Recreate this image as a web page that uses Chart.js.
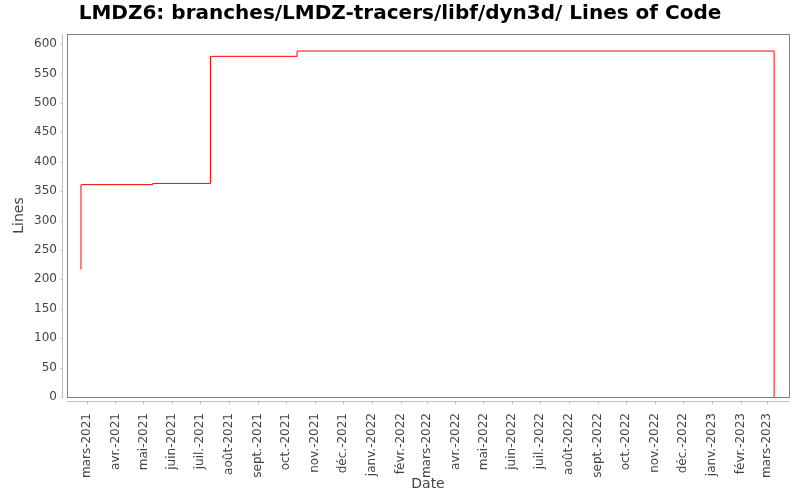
<!DOCTYPE html>
<html>
<head>
<meta charset="utf-8">
<script src="https://cdn.jsdelivr.net/npm/chart.js@4.4.1/dist/chart.umd.min.js"></script>
<style>
  html, body { margin: 0; padding: 0; background: #fff; }
</style>
</head>
<body>
<canvas id="locChart" width="800" height="500"></canvas>
<script>
// commit dates and line counts
const commitDates = ['2021-02-23', '2021-02-23', '2021-05-11', '2021-07-12', '2021-10-13', '2023-03-09', '2023-03-09'];
const lineCounts = [217, 361, 363, 579, 588, 588, 0];

// axis ticks
const yTicks = [0, 50, 100, 150, 200, 250, 300, 350, 400, 450, 500, 550, 600];
const xTickDates = [
  '2021-03-01', '2021-04-01', '2021-05-01', '2021-06-01', '2021-07-01', '2021-08-01',
  '2021-09-01', '2021-10-01', '2021-11-01', '2021-12-01', '2022-01-01', '2022-02-01',
  '2022-03-01', '2022-04-01', '2022-05-01', '2022-06-01', '2022-07-01', '2022-08-01',
  '2022-09-01', '2022-10-01', '2022-11-01', '2022-12-01', '2023-01-01', '2023-02-01',
  '2023-03-01'
];
const xTickLabels = [
  'mars-2021', 'avr.-2021', 'mai-2021', 'juin-2021', 'juil.-2021', 'août-2021',
  'sept.-2021', 'oct.-2021', 'nov.-2021', 'déc.-2021', 'janv.-2022', 'févr.-2022',
  'mars-2022', 'avr.-2022', 'mai-2022', 'juin-2022', 'juil.-2022', 'août-2022',
  'sept.-2022', 'oct.-2022', 'nov.-2022', 'déc.-2022', 'janv.-2023', 'févr.-2023',
  'mars-2023'
];

const xMin = Date.parse('2021-02-08');
const xMax = Date.parse('2023-03-25');
const yMax = 617;

const FONT = 'DejaVu Sans';

// plot frame + offset axis lines (JFreeChart look)
const frameAxes = {
  id: 'frameAxes',
  beforeDatasetsDraw(chart) {
    const {ctx, chartArea: a, scales} = chart;
    ctx.save();
    ctx.lineWidth = 1;
    ctx.strokeStyle = '#808080';
    ctx.strokeRect(a.left + 0.5, a.top + 0.5, a.right - a.left, a.bottom - a.top);

    ctx.strokeStyle = '#c0c0c0';
    // y axis
    const yx = a.left - 4.5;
    ctx.beginPath();
    ctx.moveTo(yx, a.top);
    ctx.lineTo(yx, a.bottom + 1);
    scales.y.ticks.forEach(t => {
      const py = Math.round(scales.y.getPixelForValue(t.value)) + 0.5;
      ctx.moveTo(yx - 2, py);
      ctx.lineTo(yx, py);
    });
    // x axis
    const xy = a.bottom + 4.5;
    ctx.moveTo(a.left, xy);
    ctx.lineTo(a.right + 1, xy);
    scales.x.ticks.forEach(t => {
      const px = Math.round(scales.x.getPixelForValue(t.value)) + 0.5;
      ctx.moveTo(px, xy);
      ctx.lineTo(px, xy + 3);
    });
    ctx.stroke();
    ctx.restore();
  }
};

const ctx = document.getElementById('locChart').getContext('2d');
const locChart = new Chart(ctx, {
  type: 'line',
  data: {
    datasets: [{
      label: 'Lines',
      data: commitDates.map((d, i) => ({x: Date.parse(d), y: lineCounts[i]})),
      borderColor: '#ff0000',
      borderWidth: 1,
      pointRadius: 0,
      stepped: 'before',
      fill: false
    }]
  },
  options: {
    responsive: false,
    animation: false,
    devicePixelRatio: 1,
    layout: { padding: { left: 11, right: 11, top: 0, bottom: 0 } },
    plugins: {
      legend: { display: false },
      tooltip: { enabled: false },
      title: {
        display: true,
        text: 'LMDZ6: branches/LMDZ-tracers/libf/dyn3d/ Lines of Code',
        color: '#000',
        font: { family: FONT, size: 20, weight: 'bold', lineHeight: 1.2 },
        padding: { top: 2, bottom: 8 }
      }
    },
    scales: {
      x: {
        type: 'linear',
        min: xMin,
        max: xMax,
        grid: { display: false, drawTicks: false },
        border: { display: false },
        afterBuildTicks: scale => {
          scale.ticks = xTickDates.map(d => ({value: Date.parse(d)}));
        },
        afterFit: scale => { scale.height = 103; },
        ticks: {
          autoSkip: false,
          minRotation: 90,
          maxRotation: 90,
          padding: 16,
          color: '#444',
          font: { family: FONT, size: 12 },
          callback: (value, index) => xTickLabels[index]
        },
        title: {
          display: true,
          text: 'Date',
          color: '#444',
          font: { family: FONT, size: 14, lineHeight: 1.2 },
          padding: { top: 0, bottom: 7 }
        }
      },
      y: {
        type: 'linear',
        min: 0,
        max: yMax,
        grid: { display: false, drawTicks: false },
        border: { display: false },
        afterBuildTicks: scale => {
          scale.ticks = yTicks.map(v => ({value: v}));
        },
        afterFit: scale => { scale.width = 56; },
        ticks: {
          padding: 10,
          color: '#444',
          font: { family: FONT, size: 12 }
        },
        title: {
          display: true,
          text: 'Lines',
          color: '#444',
          font: { family: FONT, size: 14, lineHeight: 1.2 },
          padding: { top: 0, bottom: 0 }
        }
      }
    }
  },
  plugins: [frameAxes]
});
</script>
</body>
</html>
